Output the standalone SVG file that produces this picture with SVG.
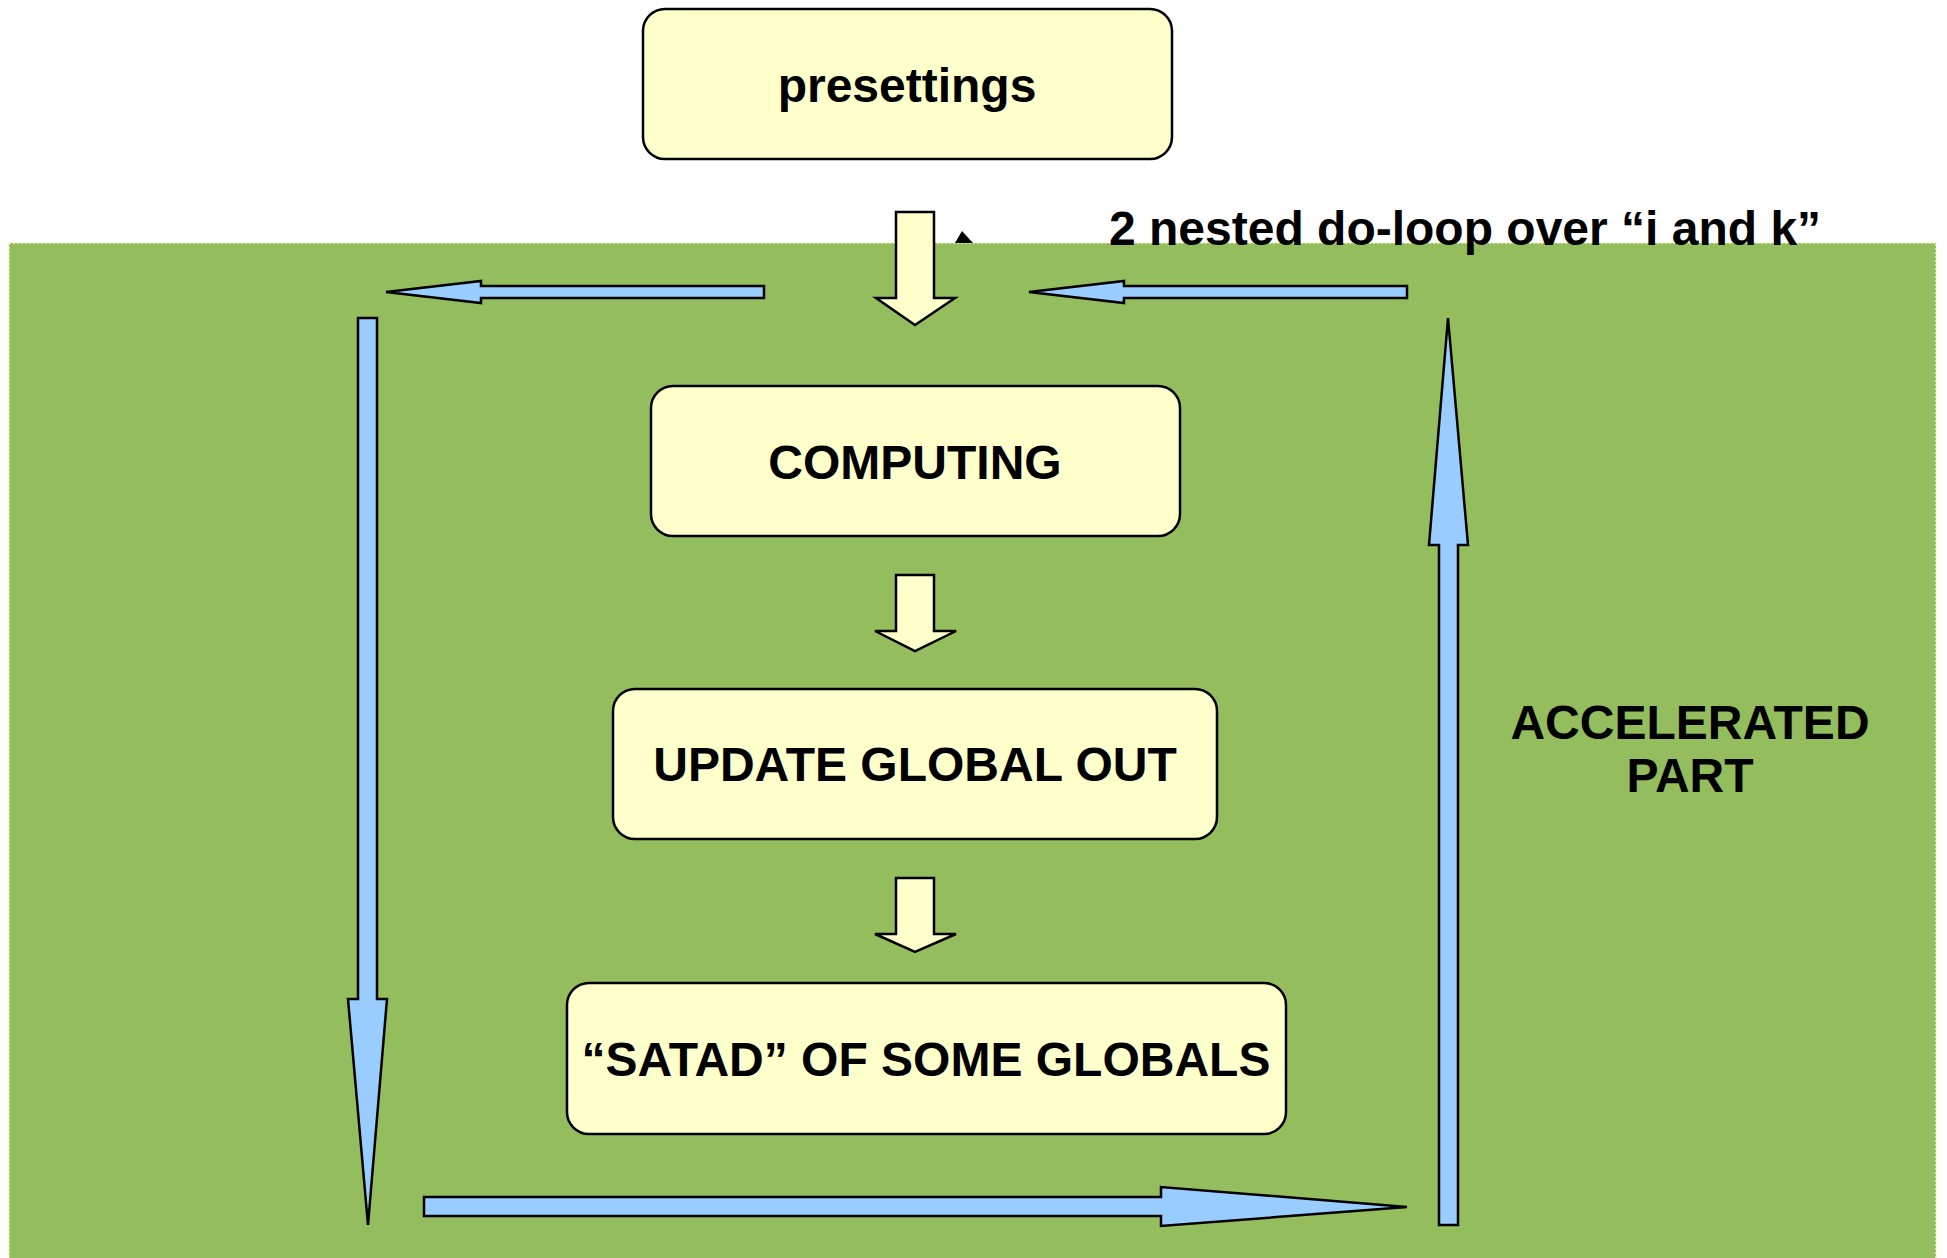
<svg xmlns="http://www.w3.org/2000/svg" width="1947" height="1258" viewBox="0 0 1947 1258">
  <style>
    .lbl { font-family: "Liberation Sans", Arial, sans-serif; font-weight: bold; font-size: 48px; fill: #000; }
    .mid { text-anchor: middle; }
    .box { fill: #FFFFCC; stroke: #000; stroke-width: 2.5; }
    .flow { fill: #FFFFCC; stroke: #000; stroke-width: 2.5; stroke-linejoin: miter; }
    .loop { fill: #99CCFF; stroke: #000; stroke-width: 2.5; stroke-linejoin: miter; }
  </style>
  <rect width="1947" height="1258" fill="#FFFFFF"/>

  <!-- accelerated region -->
  <g id="accelerated-region">
    <rect x="9" y="243" width="1927" height="1020" fill="#94BD5E" stroke="#F2F5C0" stroke-width="1.5" stroke-dasharray="2,2"/>
    <text class="lbl mid" x="1690" y="739">ACCELERATED</text>
    <text class="lbl mid" x="1690" y="792">PART</text>
  </g>

  <!-- nodes -->
  <g id="presettings">
    <rect class="box" x="643" y="9" width="529" height="150" rx="22" ry="22"/>
    <text class="lbl mid" x="907" y="102">presettings</text>
  </g>
  <g id="computing">
    <rect class="box" x="651" y="386" width="529" height="150" rx="22" ry="22"/>
    <text class="lbl mid" x="915" y="479">COMPUTING</text>
  </g>
  <g id="update-global-out">
    <rect class="box" x="613" y="689" width="604" height="150" rx="22" ry="22"/>
    <text class="lbl mid" x="915" y="781">UPDATE GLOBAL OUT</text>
  </g>
  <g id="satad-globals">
    <rect class="box" x="567" y="983" width="719" height="151" rx="22" ry="22"/>
    <text class="lbl mid" x="926" y="1076">“SATAD” OF SOME GLOBALS</text>
  </g>

  <g id="loop-label">
    <text class="lbl" x="1109" y="245">2 nested do-loop over “i and k”</text>
  </g>

  <!-- connectors -->
  <g id="connectors">
    <!-- sequential flow -->
    <polygon class="flow" points="896,212 934,212 934,298 955,298 915,325 876,298 896,298"/>
    <polygon class="flow" points="896,575 934,575 934,631 956,631 915,651 875,631 896,631"/>
    <polygon class="flow" points="896,878 934,878 934,934 956,934 915,952 875,934 896,934"/>
    <!-- small pointer -->
    <polygon points="955,243 973,243 962,231" fill="#000"/>
    <!-- loop arrows -->
    <polygon class="loop" points="386,292 481,281 481,286 764,286 764,298 481,298 481,303"/>
    <polygon class="loop" points="1029,292 1124,281 1124,286 1407,286 1407,298 1124,298 1124,303"/>
    <polygon class="loop" points="358,318 377,318 377,999 387,999 368,1225 348,999 358,999"/>
    <polygon class="loop" points="424,1197 1161,1197 1161,1187 1407,1207 1161,1226 1161,1216 424,1216"/>
    <polygon class="loop" points="1439,1225 1439,545 1429,545 1448,318 1468,545 1458,545 1458,1225"/>
  </g>
</svg>
